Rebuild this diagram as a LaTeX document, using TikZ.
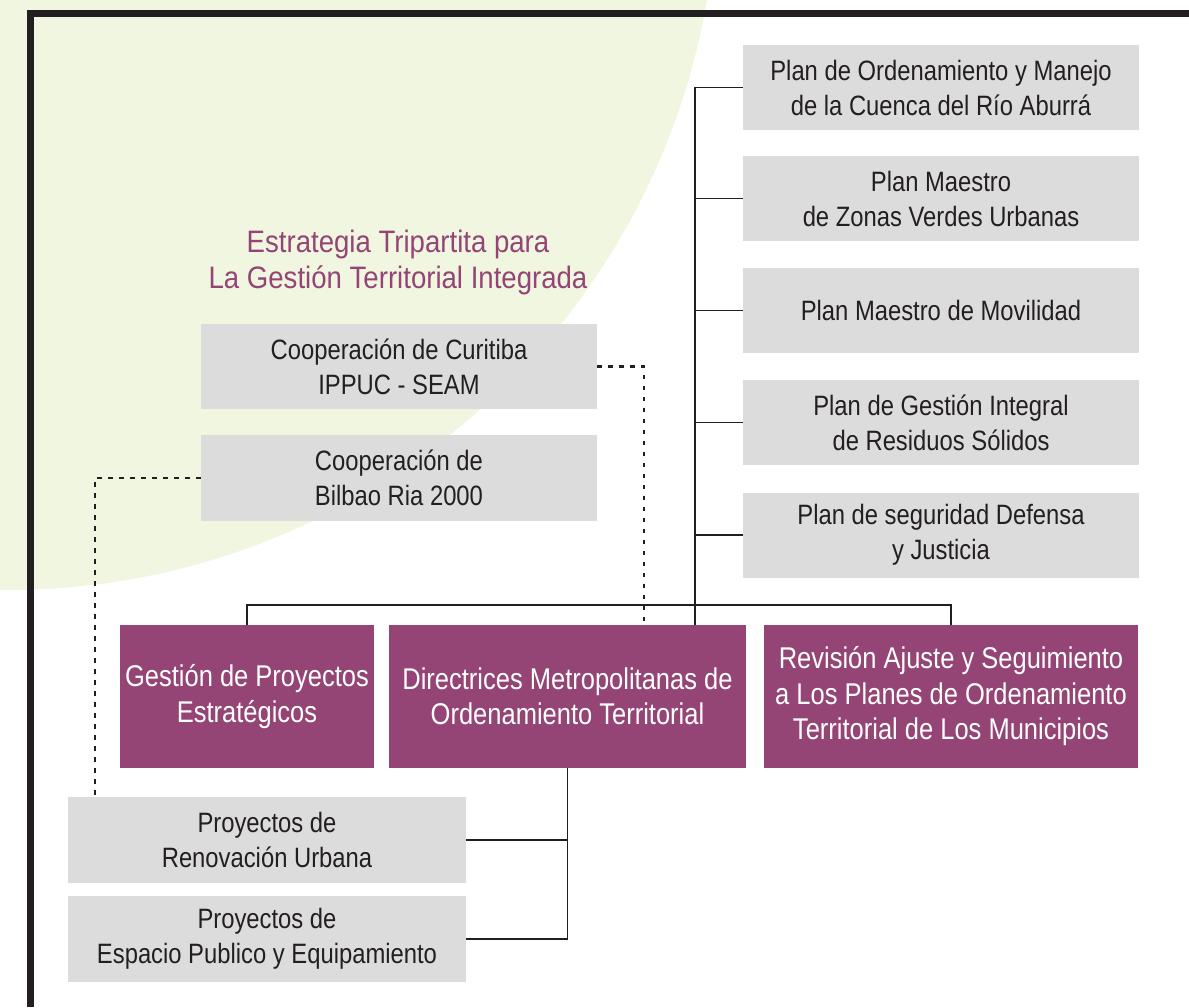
\documentclass[tikz,border=0pt]{standalone}
\usepackage{fontspec}
\setmainfont{Liberation Sans}
\newfontfamily\narrow[FakeStretch=0.85]{Liberation Sans}
\newfontfamily\narrowt[FakeStretch=0.89]{Liberation Sans}
\definecolor{bggreen}{HTML}{F1F6E0}
\definecolor{boxgray}{HTML}{DCDCDC}
\definecolor{plum}{HTML}{944575}
\definecolor{ink}{HTML}{231F20}
\tikzset{
  gbox/.style={fill=boxgray, text=ink, inner sep=0pt, align=center,
    font=\narrow\fontsize{28}{35}\selectfont},
  pbox/.style={fill=plum, text=white, inner sep=0pt, align=center,
    font=\narrow\fontsize{30}{35.5}\selectfont, minimum height=143pt},
  conn/.style={draw=ink, line width=1.6pt},
  dots/.style={draw=ink, line width=2.4pt, dash pattern=on 4.5pt off 6.5pt},
  frame/.style={draw=ink, line width=7pt, line join=miter}
}
\begin{document}
\begin{tikzpicture}[x=1pt,y=-1pt]
\useasboundingbox (0,0) rectangle (1189,1007);
\fill[white] (0,0) rectangle (1189,1007);
\begin{scope}
  \clip (0,0) rectangle (1189,1007);
  \fill[bggreen] (7,-120) circle[radius=710pt];
\end{scope}
\draw[frame] (30.5,1007) -- (30.5,13.5) -- (1189,13.5);

% right column
\node[gbox, minimum width=396pt, minimum height=85pt] (r1) at (941,87.5) {Plan de Ordenamiento y Manejo\\de la Cuenca del Río Aburrá};
\node[gbox, minimum width=396pt, minimum height=85pt] (r2) at (941,198.5) {Plan Maestro\\de Zonas Verdes Urbanas};
\node[gbox, minimum width=396pt, minimum height=85pt] (r3) at (941,310.5) {Plan Maestro de Movilidad};
\node[gbox, minimum width=396pt, minimum height=85pt] (r4) at (941,422.5) {Plan de Gestión Integral\\de Residuos Sólidos};
\node[gbox, minimum width=396pt, minimum height=85pt] (r5) at (941,535) {Plan de seguridad Defensa\\y Justicia};

% title
\node[text=plum, align=center, inner sep=0pt, font=\narrowt\fontsize{31}{36}\selectfont] (title) at (398,262) {Estrategia Tripartita para\\La Gestión Territorial Integrada};

% cooperation boxes
\node[gbox, minimum width=396pt, minimum height=85pt] (cur) at (399,366.5) {Cooperación de Curitiba\\IPPUC - SEAM};
\node[gbox, minimum width=396pt, minimum height=86pt] (bil) at (399,478) {Cooperación de\\Bilbao Ria 2000};

% purple boxes
\node[pbox, minimum width=254pt] (gest) at (247,696.5) {Gestión de Proyectos\\Estratégicos};
\node[pbox, minimum width=357pt] (dir) at (567.5,696.5) {Directrices Metropolitanas de\\Ordenamiento Territorial};
\node[pbox, minimum width=374pt] (rev) at (951,696.5) {Revisión Ajuste y Seguimiento\\a Los Planes de Ordenamiento\\Territorial de Los Municipios};

% lower boxes
\node[gbox, minimum width=398pt, minimum height=86pt] (ru) at (267,840) {Proyectos de\\Renovación Urbana};
\node[gbox, minimum width=398pt, minimum height=86pt] (ep) at (267,939) {Proyectos de\\Espacio Publico y Equipamiento};

% coordinates
\coordinate (trunk) at (695,605);
\coordinate (d1) at (644,0);
\coordinate (d2) at (95,0);

% connectors
\draw[conn] (r1.west) -- (r1.west -| trunk) -- (trunk |- dir.north);
\draw[conn] (r2.west) -- (r2.west -| trunk);
\draw[conn] (r3.west) -- (r3.west -| trunk);
\draw[conn] (r4.west) -- (r4.west -| trunk);
\draw[conn] (r5.west) -- (r5.west -| trunk);
\draw[conn] (gest.north) |- (trunk -| rev.north) -- (rev.north);
\draw[conn] (dir.south) |- (ep.east);
\draw[conn] (ru.east) -- (ru.east -| dir.south);

\draw[dots] (cur.east) -| (dir.north -| d1);
\draw[dots] (bil.west) -| (ru.north -| d2);
\end{tikzpicture}
\end{document}
